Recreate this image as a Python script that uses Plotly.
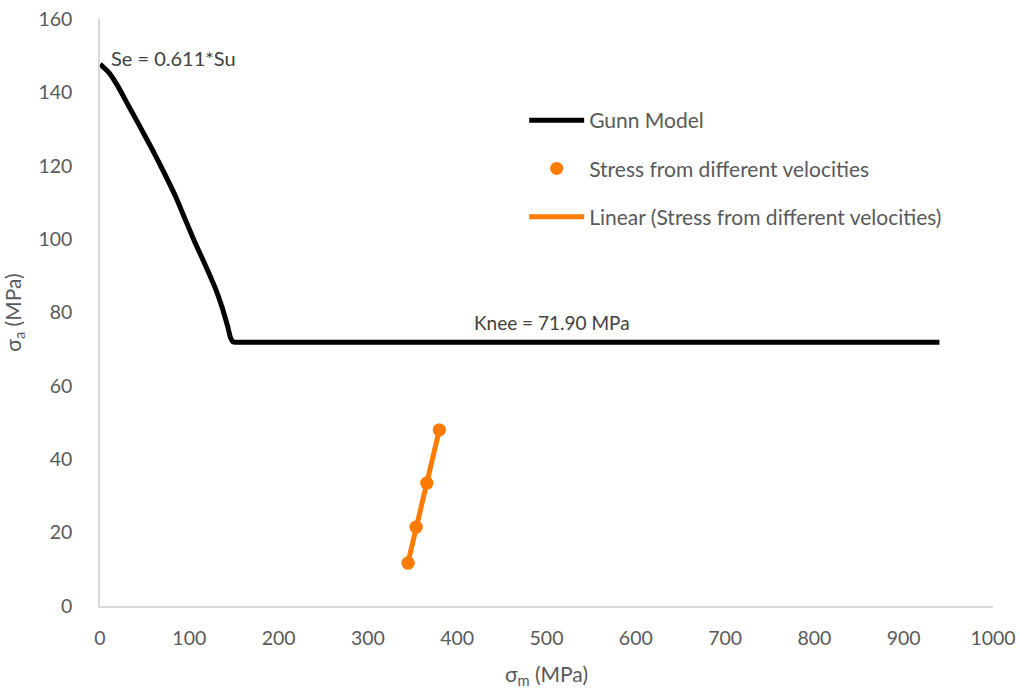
import numpy as np
import plotly.graph_objects as go

gunn_x = [0, 10, 20, 30, 44, 58, 71, 84, 95, 106, 118, 129, 137, 143, 146, 148.5, 151, 160, 300, 600, 940]
gunn_y = [147.7, 145.4, 141.7, 137.2, 131.0, 124.7, 118.5, 112.0, 105.6, 99.3, 92.9, 86.7, 81.2, 76.2, 73.2, 72.1, 71.9, 71.9, 71.9, 71.9, 71.9]

# Stress from different velocities
stress_x = [345, 354, 366, 380]
stress_y = [11.7, 21.5, 33.5, 48.0]

x_ticks = list(range(0, 1001, 100))
y_ticks = list(range(0, 161, 20))

orange = "#FF7B00"
grey_text = "#595959"
font_family = "Lato, 'Open Sans', sans-serif"

# linear trendline (least squares)
slope, intercept = np.polyfit(stress_x, stress_y, 1)
trend_x = [min(stress_x), max(stress_x)]
trend_y = [slope * v + intercept for v in trend_x]

fig = go.Figure()
fig.add_trace(go.Scatter(
    x=gunn_x, y=gunn_y, mode="lines", name="Gunn Model",
    line=dict(color="black", width=5, shape="spline", smoothing=0.3),
    legendgroup="a"))
fig.add_trace(go.Scatter(
    x=stress_x, y=stress_y, mode="markers", name="Stress from different velocities",
    marker=dict(color=orange, size=13), legendgroup="b"))
fig.add_trace(go.Scatter(
    x=trend_x, y=trend_y, mode="lines", name="Linear (Stress from different velocities)",
    line=dict(color=orange, width=5), legendgroup="c"))
# redraw markers above the trendline
fig.add_trace(go.Scatter(
    x=stress_x, y=stress_y, mode="markers", showlegend=False,
    marker=dict(color=orange, size=13), hoverinfo="skip"))

fig.add_annotation(x=10, y=149.5, text="Se = 0.611*Su", showarrow=False,
                   xanchor="left", yanchor="middle",
                   font=dict(size=20, color="#404040", family=font_family))
fig.add_annotation(x=417, y=77.2, text="Knee = 71.90 MPa", showarrow=False,
                   xanchor="left", yanchor="middle",
                   font=dict(size=19, color="#404040", family=font_family))

fig.update_layout(
    width=1020, height=689,
    margin=dict(l=100, r=27, t=19, b=83, autoexpand=False),
    plot_bgcolor="white", paper_bgcolor="white",
    font=dict(family=font_family, size=19, color=grey_text),
    legend=dict(x=0.475, y=0.862, xanchor="left", yanchor="top",
                traceorder="grouped", tracegroupgap=18, itemwidth=55,
                font=dict(size=21, color=grey_text),
                bgcolor="rgba(0,0,0,0)"),
    xaxis=dict(range=[0, 1000], tickvals=x_ticks, showgrid=False, zeroline=False,
               showline=True, linecolor="#D9D9D9", linewidth=1.5,
               ticks="", ticklabelstandoff=14, automargin=False,
               tickfont=dict(size=19.5),
               title=dict(text="σ<sub>m</sub> (MPa)", standoff=22,
                          font=dict(size=21, color=grey_text))),
    yaxis=dict(range=[0, 160], tickvals=y_ticks, showgrid=False, zeroline=False,
               showline=True, linecolor="#D9D9D9", linewidth=1.5,
               ticks="", ticklabelstandoff=22, automargin=False,
               tickfont=dict(size=19.5),
               title=dict(text="σ<sub>a</sub> (MPa)", standoff=22,
                          font=dict(size=21, color=grey_text))),
)

fig.write_html("out.html")
